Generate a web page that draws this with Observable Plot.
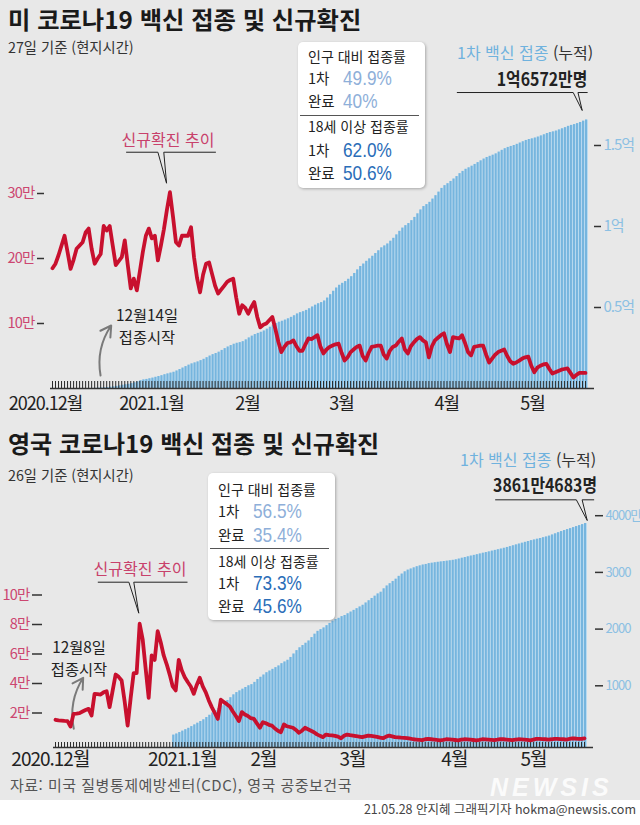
<!DOCTYPE html>
<html lang="ko">
<head>
<meta charset="utf-8">
<script src="https://cdn.jsdelivr.net/npm/d3@7"></script>
<script src="https://cdn.jsdelivr.net/npm/@observablehq/plot@0.6"></script>
<style>
html,body{margin:0;padding:0;background:#fff;}
#page{position:relative;width:640px;height:825px;background:#e8e8e8;overflow:hidden;font-family:"Noto Sans CJK KR","Noto Sans",sans-serif;color:#222;}
.t{position:absolute;white-space:nowrap;}
.layer{position:absolute;left:0;}
.layer svg{position:absolute;left:0;top:0;}
.box{position:absolute;background:#fff;border-radius:5px;box-shadow:1px 1px 3px rgba(0,0,0,.28);}
.foot{position:absolute;left:0;top:800px;width:640px;height:25px;background:#fff;}
</style>
</head>
<body>
<div id="page">
  <div class="foot"></div>
  <div id="us" class="layer" style="top:40px;width:640px;height:380px"></div>
  <div id="uk" class="layer" style="top:480px;width:640px;height:300px"></div>
</div>
<script>
// ---------------- DATA ----------------
// 미국: 일일 신규확진 (만 명), 2020-12-01 부터 매일
const usCasesStart = "2020-12-01";
const usCases = [18.5,19.2,20.5,22.0,23.5,21.0,18.4,19.8,21.5,22.0,
22.5,24.0,24.6,21.5,19.2,20.0,20.7,25.0,24.3,25.0,
22.0,19.0,19.6,20.2,22.8,19.0,15.4,16.9,15.1,18.0,
21.0,23.5,24.6,23.1,23.5,19.7,22.0,24.5,27.5,30.2,
26.5,22.5,22.0,23.5,23.5,23.5,24.8,20.2,17.0,14.8,
17.5,19.2,19.4,17.6,15.8,14.6,15.2,15.8,16.4,16.7,
16.9,14.0,11.5,12.8,12.4,11.5,12.5,13.3,11.0,9.4,
9.8,10.0,10.5,11.0,9.2,7.2,5.6,6.4,7.0,7.1,
7.4,6.5,5.8,5.8,6.8,7.7,7.6,7.9,8.2,6.4,
5.4,6.0,6.4,6.6,6.8,6.9,5.5,4.3,4.8,5.6,
6.0,6.4,6.6,5.0,4.3,5.5,6.4,6.5,6.6,6.6,
5.2,4.6,5.8,6.4,6.6,7.2,7.7,6.0,5.4,6.5,
7.1,7.6,7.9,7.4,7.1,4.8,6.5,7.4,7.8,8.2,
8.5,6.8,5.6,7.9,7.8,7.7,8.2,7.0,5.6,5.1,
6.4,6.5,6.6,6.6,5.2,4.0,4.6,5.2,5.6,5.8,
6.0,5.0,4.2,3.8,4.0,4.3,4.6,4.8,4.9,3.5,
2.5,3.2,3.5,3.7,3.8,3.0,2.3,2.5,2.7,2.9,
3.0,3.1,2.4,1.7,2.1,2.4,2.4,2.4];
// 미국: 1차 백신 접종 누적 (백만 명), 2020-12-14 부터 매일
const usVaxStart = "2020-12-14";
const usVax = [0.05,0.1,0.2,0.3,0.45,0.6,0.8,1.0,1.3,1.6,2.0,2.3,2.6,3.0,3.5,4.1,4.8,5.3,
5.6,6.0,6.4,6.9,7.4,7.9,8.5,9.0,9.5,10.0,10.8,11.7,12.6,13.5,14.4,15.2,15.8,16.4,17.2,18.0,19.0,20.0,20.9,21.6,22.4,23.5,24.6,25.6,26.5,27.3,27.9,
28.3,28.9,30.0,31.2,32.3,33.3,34.0,34.7,35.5,36.6,37.8,39.0,40.1,40.9,41.5,42.2,43.0,43.9,44.9,46.0,46.8,47.4,48.2,49.2,50.3,51.4,52.3,53.0,
54.0,55.8,57.9,60.0,62.0,63.7,64.9,66.0,67.4,69.0,71.0,73.2,75.3,76.8,78.5,80.0,81.6,83.3,85.0,86.8,88.0,89.2,90.9,92.7,94.8,97.0,99.0,100.5,101.8,103.6,105.6,
107.8,110.2,112.3,113.5,114.9,116.9,119.0,121.2,123.5,125.2,126.4,127.8,129.3,130.8,132.6,134.0,135.3,136.2,137.2,138.3,139.4,140.5,141.6,142.6,143.3,144.0,144.8,145.9,147.0,148.0,
148.8,149.4,150.0,150.7,151.5,152.3,153.1,153.7,154.1,154.6,155.2,155.9,156.6,157.4,158.0,158.4,158.9,159.6,160.3,161.0,161.8,162.4,162.9,163.5,164.2,165.0,165.72];
// 영국: 일일 신규확진 (만 명), 2020-12-01 부터 매일
const ukCasesStart = "2020-12-01";
const ukCases = [1.54,1.50,1.48,1.46,1.45,1.08,1.94,1.96,1.99,2.10,
2.20,2.28,1.83,3.30,3.28,3.25,3.40,3.48,2.40,3.50,
4.61,4.45,4.20,2.80,1.15,3.00,4.70,4.70,8.05,7.00,
5.00,3.03,5.90,5.60,7.55,6.80,5.90,5.30,4.60,3.80,
3.53,5.60,4.90,4.43,4.10,3.80,3.30,3.90,4.39,3.80,
3.40,2.85,2.40,2.00,1.60,2.90,2.75,2.60,2.44,2.10,
1.80,1.45,2.06,1.90,1.80,1.65,1.60,1.30,1.00,1.38,
1.30,1.20,1.15,0.95,0.80,0.70,1.22,1.10,1.05,1.00,
0.85,0.66,0.80,1.00,0.90,0.80,0.70,0.55,0.45,0.36,
0.54,0.50,0.48,0.45,0.40,0.29,0.45,0.54,0.50,0.47,
0.44,0.40,0.36,0.42,0.47,0.45,0.42,0.38,0.33,0.29,
0.40,0.47,0.42,0.36,0.35,0.33,0.32,0.30,0.26,0.22,
0.20,0.18,0.16,0.22,0.24,0.22,0.20,0.17,0.15,0.18,
0.22,0.21,0.19,0.17,0.15,0.19,0.22,0.21,0.19,0.17,
0.15,0.18,0.22,0.21,0.20,0.18,0.16,0.19,0.23,0.22,
0.20,0.18,0.16,0.19,0.22,0.21,0.20,0.18,0.15,0.20,
0.25,0.24,0.23,0.22,0.20,0.22,0.25,0.24,0.23,0.22,
0.20,0.24,0.28,0.27,0.25,0.24,0.28];
// 영국: 1차 백신 접종 누적 (만 명), 2021-01-09 부터 매일
const ukVaxStart = "2021-01-09";
const ukVax = [130,150,175,200,225,250,280,310,340,370,
400,440,480,520,560,600,645,690,740,790,
840,880,910,940,970,1000,1020,1060,1110,1150,
1190,1230,1260,1290,1320,1350,1390,1420,1450,1500,
1560,1620,1670,1710,1750,1790,1850,1910,1960,1990,
2020,2060,2100,2140,2170,2190,2220,2240,2270,2300,
2330,2360,2390,2420,2460,2500,2540,2580,2620,2650,
2710,2760,2800,2840,2880,2930,2970,3010,3040,3060,
3080,3100,3115,3130,3140,3155,3162,3170,3178,3185,
3192,3198,3205,3213,3222,3235,3250,3262,3275,3288,
3300,3312,3325,3338,3350,3362,3375,3388,3400,3412,
3425,3440,3455,3470,3485,3500,3515,3530,3545,3560,
3572,3585,3598,3612,3625,3640,3660,3680,3700,3720,
3738,3755,3772,3790,3808,3825,3843,3861.4683];

// axis tick values & labels
const usCaseTicks = [100000, 200000, 300000];
const usCaseTickLabels = ["10만", "20만", "30만"];
const usVaxTicks = [5e7, 1e8, 1.5e8];
const usVaxTickLabels = ["0.5억", "1억", "1.5억"];
const ukCaseTicks = [20000, 40000, 60000, 80000, 100000];
const ukCaseTickLabels = ["2만", "4만", "6만", "8만", "10만"];
const ukVaxTicks = [1e7, 2e7, 3e7, 4e7];
const ukVaxTickLabels = ["1000", "2000", "3000", "4000만"];

// month labels (placed where the reference shows them)
const monthLabels = ["2020.12월", "2021.1월", "2월", "3월", "4월", "5월"];
const usMonthAt = ["2020-11-28T17:00Z","2021-01-02T22:00Z","2021-02-03T19:00Z","2021-03-07T00:00Z","2021-04-10T22:00Z","2021-05-09T10:00Z"];
const ukMonthAt = ["2020-11-29T07:00Z","2021-01-12T05:00Z","2021-02-08T05:00Z","2021-03-09T19:00Z","2021-04-12T17:00Z","2021-05-09T00:00Z"];

// rate boxes
const usRates = {pop1: "49.9%", popDone: "40%", adult1: "62.0%", adultDone: "50.6%"};
const ukRates = {pop1: "56.5%", popDone: "35.4%", adult1: "73.3%", adultDone: "45.6%"};

// annotation anchor points (date, value)
const usCaseCallout = [["2020-12-25T14:00Z",363500],["2021-01-05T00:00Z",363500],["2021-01-07T21:00Z",315800],["2021-01-06T23:00Z",363500],["2021-01-24T03:00Z",363500]];
const usVaxCallout = [["2021-04-14T10:00Z",182700000],["2021-05-22T22:00Z",182700000],["2021-05-25T22:00Z",171600000],["2021-05-24T12:00Z",182700000],["2021-05-27T14:00Z",182700000]];
const usArrow = [{x1:"2020-12-16T23:00Z", y1:20000, x2:"2020-12-20T12:00Z", y2:96900}];
const ukCaseCallout = [["2020-12-15T05:00Z",108680],["2020-12-25T10:00Z",108680],["2020-12-28T17:00Z",87660],["2020-12-27T01:00Z",108680],["2021-01-13T19:00Z",108680]];
const ukVaxCallout = [["2021-04-26T10:00Z",42800000],["2021-05-23T07:00Z",42800000],["2021-05-26T22:00Z",39150000],["2021-05-25T05:00Z",42800000],["2021-05-29T02:00Z",42800000]];
const ukArrow = [{x1:"2020-12-07T02:00Z", y1:9290, x2:"2020-12-10T05:00Z", y2:43860}];

// ---------------- BUILD ----------------
const FONT = '"Noto Sans CJK KR","Noto Sans",sans-serif';
const DAY = d3.utcDay;
const addDays = (s, i) => DAY.offset(new Date(s), i);
const pts = arr => arr.map(([d, v]) => ({date: new Date(d), value: v}));
const arrows = arr => arr.map(a => ({x1: new Date(a.x1), y1: a.y1, x2: new Date(a.x2), y2: a.y2}));
const vaxRows = (arr, start, mult) => arr.map((v, i) => { const d = addDays(start, i); return {date: d, next: DAY.offset(d, 1), value: v * mult}; });
const caseRows = (arr, start) => arr.map((v, i) => ({date: addDays(start, i), value: v * 1e4}));
const months = at => at.map((d, i) => ({date: new Date(d), label: monthLabels[i]}));

function drawCountry(el, c) {
  const inner = c.height - c.mb;
  const xDomain = c.xDomain.map(s => new Date(s));
  const days = DAY.range(xDomain[0], xDomain[1]);
  const common = {
    width: 640, height: c.height, marginTop: 0, marginBottom: c.mb, marginLeft: c.ml, marginRight: c.mr,
    x: {type: "utc", domain: xDomain, axis: null}
  };
  const bars = Plot.plot({
    ...common,
    style: {background: "transparent", fontFamily: FONT, overflow: "visible", letterSpacing: "-1px"},
    y: {domain: c.vaxY, axis: null},
    marks: [
      Plot.rect(c.vaxData, {x1: "date", x2: "next", y1: 0, y2: "value", fill: "#b9daf0", insetBottom: -c.zeroGap}),
      Plot.rect(c.vaxData, {x1: "date", x2: "next", y1: 0, y2: "value", fill: "#76b5de", insetRight: 1, insetBottom: -c.zeroGap}),
      Plot.tickX(days, {x: d => d, stroke: "#2a2a2a", strokeWidth: 1, insetTop: inner - c.tickLen}),
      Plot.ruleY([c.vaxY[0]], {stroke: "#333", strokeWidth: 1.3, insetLeft: -2, insetRight: -6}),
      Plot.axisY({anchor: "right", label: null, ticks: c.vaxTicks, tickFormat: d => c.vaxTickLabels[c.vaxTicks.indexOf(d)],
        tickSize: c.rTick, tickPadding: 3, dx: c.rDx, stroke: "#333", strokeWidth: 1.5, fill: "#8cc0e3", fontSize: c.rFont}),
      Plot.text(c.months, {x: "date", text: "label", frameAnchor: "bottom", lineAnchor: "top", dy: c.monthDy, fontSize: c.monthFont, fill: "#222"}),
      Plot.line(c.vaxCallout, {x: "date", y: "value", stroke: "#222", strokeWidth: 1})
    ]
  });
  const lines = Plot.plot({
    ...common,
    style: {background: "transparent", fontFamily: FONT, overflow: "visible", letterSpacing: "-0.8px"},
    y: {domain: c.caseY, axis: null},
    marks: [
      Plot.axisY({anchor: "left", label: null, ticks: c.caseTicks, tickFormat: d => c.caseTickLabels[c.caseTicks.indexOf(d)],
        tickSize: c.lTick, tickPadding: 3, dx: c.lDx, stroke: "#333", strokeWidth: 1.5, fill: "#cc4670", fontSize: 14.5}),
      Plot.line(c.caseCallout, {x: "date", y: "value", stroke: "#222", strokeWidth: 1}),
      Plot.arrow(c.arrow, {x1: "x1", y1: "y1", x2: "x2", y2: "y2", bend: 22, stroke: "#7a7a7a", strokeWidth: 2, headLength: 9}),
      Plot.line(c.caseData, {x: "date", y: "value", stroke: "#c8102e", strokeWidth: 3.8, strokeLinejoin: "round", strokeLinecap: "round"})
    ]
  });
  el.appendChild(bars);
  el.appendChild(lines);
}

drawCountry(document.getElementById("us"), {
  height: 380, mb: 32, ml: 52, mr: 52, zeroGap: 0, tickLen: 7,
  xDomain: ["2020-12-01", "2021-05-28"],
  vaxY: [0, 214810000], caseY: [0, 535385],
  vaxData: vaxRows(usVax, usVaxStart, 1e6), caseData: caseRows(usCases, usCasesStart),
  vaxTicks: usVaxTicks, vaxTickLabels: usVaxTickLabels, caseTicks: usCaseTicks, caseTickLabels: usCaseTickLabels,
  rTick: 7, rDx: 5, rFont: 15, lTick: 7, lDx: -8,
  months: months(usMonthAt), monthDy: 9, monthFont: 18,
  vaxCallout: pts(usVaxCallout), caseCallout: pts(usCaseCallout), arrow: arrows(usArrow)
});
drawCountry(document.getElementById("uk"), {
  height: 300, mb: 33, ml: 55, mr: 53, zeroGap: 5, tickLen: 5,
  xDomain: ["2020-12-01", "2021-05-27"],
  vaxY: [-881834, 46208113], caseY: [-3390, 177627],
  vaxData: vaxRows(ukVax, ukVaxStart, 1e4), caseData: caseRows(ukCases, ukCasesStart),
  vaxTicks: ukVaxTicks, vaxTickLabels: ukVaxTickLabels, caseTicks: ukCaseTicks, caseTickLabels: ukCaseTickLabels,
  rTick: 8, rDx: 7, rFont: 13, lTick: 10, lDx: -13,
  months: months(ukMonthAt), monthDy: 5, monthFont: 19,
  vaxCallout: pts(ukVaxCallout), caseCallout: pts(ukCaseCallout), arrow: arrows(ukArrow)
});

// ---------------- TEXT OVERLAYS ----------------
const page = document.getElementById("page");
const LATIN = '"Liberation Sans",Arial,sans-serif';
function txt(html, x, base, fs, o = {}) {
  const e = document.createElement("div");
  e.className = "t";
  e.innerHTML = html;
  const lh = o.lh || fs;
  // baseline offset inside the line box depends on the font's ascent/descent
  const asc = o.latin ? 0.905 : 1.16, desc = o.latin ? 0.212 : 0.288;
  e.style.left = x + "px";
  e.style.top = (base - (lh - (asc + desc) * fs) / 2 - asc * fs) + "px";
  e.style.fontSize = fs + "px";
  e.style.lineHeight = lh + "px";
  if (o.latin) e.style.fontFamily = LATIN;
  if (o.color) e.style.color = o.color;
  if (o.weight) e.style.fontWeight = o.weight;
  if (o.italic) e.style.fontStyle = "italic";
  if (o.ls != null) e.style.letterSpacing = o.ls + "px";
  let tr = "";
  if (o.anchor === "middle") { tr += "translateX(-50%) "; e.style.textAlign = "center"; }
  if (o.anchor === "end") tr += "translateX(-100%) ";
  if (o.sx) { tr += "scaleX(" + o.sx + ")"; if (o.anchor !== "middle") e.style.transformOrigin = "0 50%"; }
  if (tr) e.style.transform = tr;
  (o.parent || page).appendChild(e);
  return e;
}
function rateBox(x, y, w, h, r, b) {
  const el = document.createElement("div");
  el.className = "box";
  Object.assign(el.style, {left: x + "px", top: y + "px", width: w + "px", height: h + "px"});
  page.appendChild(el);
  const light = "#8eafd9", dark = "#2a6db8";
  const pct = (s, base, color) => txt(s, 45, base, 21, {parent: el, color, latin: true, sx: 0.82});
  txt("인구 대비 접종률", 10, b[0], 14, {parent: el});
  txt("1차", 10, b[1], 14.5, {parent: el});
  pct(r.pop1, b[1], light);
  txt("완료", 10, b[2], 14.5, {parent: el});
  pct(r.popDone, b[2], light);
  const hr = document.createElement("div");
  Object.assign(hr.style, {position: "absolute", left: "2px", width: (w - 8) + "px", top: b[3] + "px", height: "1px", background: "#555"});
  el.appendChild(hr);
  txt("18세 이상 접종률", 10, b[4], 14, {parent: el});
  txt("1차", 10, b[5], 14.5, {parent: el});
  pct(r.adult1, b[5], dark);
  txt("완료", 10, b[6], 14.5, {parent: el});
  pct(r.adultDone, b[6], dark);
}

// US
txt("미 코로나19 백신 접종 및 신규확진", 8, 29.5, 24.3, {weight: 700, color: "#1a1a1a"});
txt("27일 기준 (현지시간)", 8, 53.5, 14.3, {color: "#333"});
txt("신규확진 추이", 168, 146, 16, {anchor: "middle", color: "#c8416b"});
txt("12월14일", 147, 321, 15.3, {anchor: "middle"});
txt("접종시작", 147, 343, 15.3, {anchor: "middle"});
txt('<span style="color:#6fb2de">1차 백신 접종</span> (누적)', 457, 59, 16, {color: "#333"});
txt("1억6572만명", 541.5, 85.5, 18, {anchor: "middle", weight: 700, sx: 0.88});
rateBox(298, 42, 127, 146, usRates, [20, 43, 66, 73, 90, 115, 138]);

// UK
txt("영국 코로나19 백신 접종 및 신규확진", 8, 453, 24, {weight: 700, color: "#1a1a1a"});
txt("26일 기준 (현지시간)", 8, 481, 14.3, {color: "#333"});
txt("신규확진 추이", 140, 575, 16, {anchor: "middle", color: "#c8416b"});
txt("12월8일", 79, 653.5, 15.3, {anchor: "middle"});
txt("접종시작", 79, 675.5, 15.3, {anchor: "middle"});
txt('<span style="color:#6fb2de">1차 백신 접종</span> (누적)', 460, 465.5, 16, {color: "#333"});
txt("3861만4683명", 544.5, 491.5, 18, {anchor: "middle", weight: 700, sx: 0.88});
rateBox(208, 473, 127, 147, ukRates, [22, 45, 69, 75, 94, 117, 140]);

// footer
txt("자료: 미국 질병통제예방센터(CDC), 영국 공중보건국", 10, 791, 15, {color: "#555", ls: 0.5});
txt("NEWSIS", 490, 796, 25, {weight: 900, italic: true, latin: true, color: "rgba(255,255,255,0.85)", ls: 4});
txt("21.05.28 안지혜 그래픽기자 hokma@newsis.com", 636, 815, 12.5, {anchor: "end", color: "#444"});
</script>
</body>
</html>
